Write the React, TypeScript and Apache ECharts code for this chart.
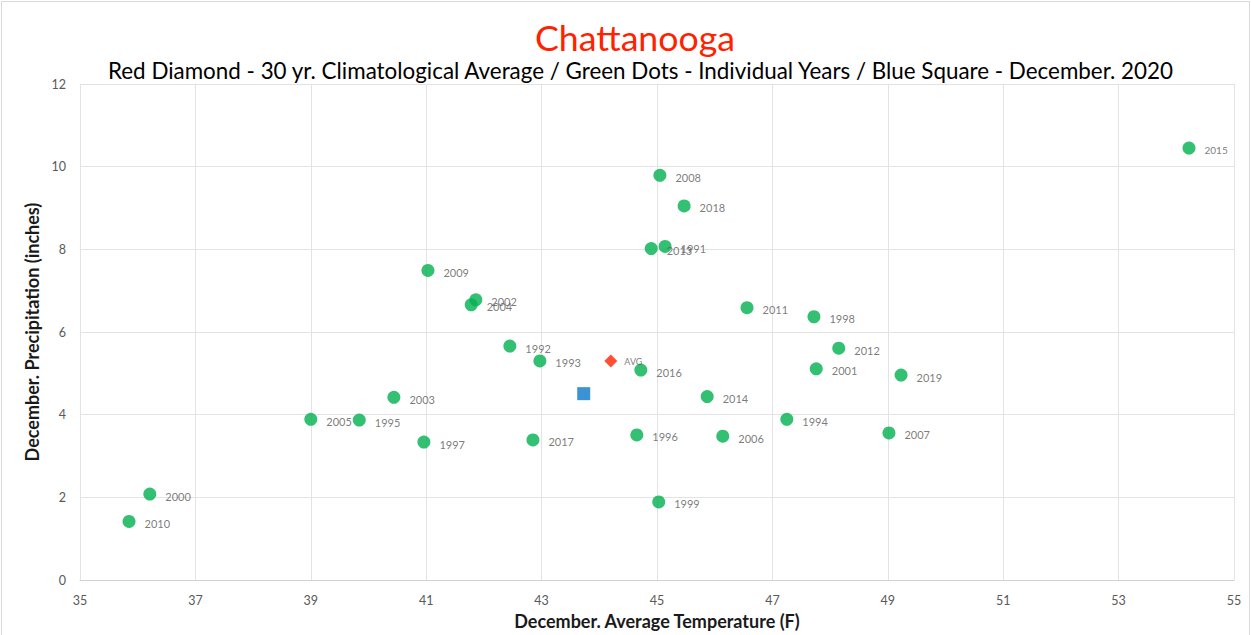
import React, { useEffect, useRef } from "react";
import * as echarts from "echarts";

const years = ["1991","1992","1993","1994","1995","1996","1997","1998","1999","2000","2001","2002","2003","2004","2005","2006","2007","2008","2009","2010","2011","2012","2013","2014","2015","2016","2017","2018","2019"];
const temps = [45.14,42.45,42.97,47.25,39.84,44.65,40.96,47.72,45.03,36.21,47.76,41.86,40.44,41.78,39.0,46.14,49.02,45.05,41.03,35.85,46.56,48.15,44.9,45.87,54.22,44.72,42.85,45.47,49.23];
const precips = [8.07,5.66,5.3,3.89,3.87,3.51,3.34,6.37,1.89,2.08,5.11,6.78,4.42,6.66,3.89,3.48,3.56,9.79,7.49,1.42,6.59,5.61,8.02,4.44,10.45,5.08,3.39,9.05,4.96];
const avgPoint = [44.2, 5.3];
const currentPoint = [43.73, 4.51];

const FONT = "Lato, 'Open Sans', sans-serif";

export default function App() {
  const ref = useRef<HTMLDivElement>(null);
  useEffect(() => {
    if (!ref.current) return;
    const chart = echarts.init(ref.current, undefined, { renderer: "svg" });
    const yearData = years.map((y, i) => ({
      name: y,
      value: [temps[i], precips[i]],
      label: y === "2015" ? { fontSize: 10 } : undefined,
    }));
    chart.setOption({
      animation: false,
      backgroundColor: "#ffffff",
      textStyle: { fontFamily: FONT },
      title: [
        {
          text: "Chattanooga",
          left: 530,
          top: 14,
          textStyle: { fontSize: 35.7, fontWeight: "normal", color: "#FF2200", fontFamily: FONT },
        },
        {
          text: "Red Diamond - 30 yr. Climatological Average / Green Dots - Individual Years / Blue Square - December. 2020",
          left: 103,
          top: 54,
          textStyle: { fontSize: 22.4, fontWeight: "normal", color: "#000000", fontFamily: FONT },
        },
      ],
      grid: { left: 80, right: 17, top: 84, bottom: 47 },
      xAxis: {
        type: "value",
        min: 35,
        max: 55,
        interval: 2,
        name: "December. Average Temperature (F)",
        nameLocation: "middle",
        nameGap: 30,
        nameTextStyle: { fontSize: 18, fontWeight: "bold", color: "#1a1a1a", fontFamily: FONT },
        axisLine: { show: true, lineStyle: { color: "#d0d0d0" } },
        axisTick: { show: false },
        axisLabel: { color: "#595959", fontSize: 12.5, margin: 14 },
        splitLine: { show: true, lineStyle: { color: "#e3e3e3" } },
      },
      yAxis: {
        type: "value",
        min: 0,
        max: 12,
        interval: 2,
        name: "December. Precipitation (inches)",
        nameLocation: "middle",
        nameGap: 33,
        nameTextStyle: { fontSize: 18, fontWeight: "bold", color: "#1a1a1a", fontFamily: FONT },
        axisLine: { show: false },
        axisTick: { show: false },
        axisLabel: { color: "#595959", fontSize: 12.5, margin: 14 },
        splitLine: { show: true, lineStyle: { color: "#e3e3e3" } },
      },
      series: [
        {
          type: "scatter",
          symbol: "circle",
          symbolSize: 13,
          itemStyle: { color: "#00B050" },
          label: {
            show: true,
            position: "right",
            distance: 9,
            offset: [0, 2],
            formatter: "{b}",
            fontSize: 11,
            color: "#595959",
          },
          data: yearData,
        },
        {
          type: "scatter",
          symbol: "diamond",
          symbolSize: 13,
          itemStyle: { color: "#FF2200" },
          label: {
            show: true,
            position: "right",
            distance: 7,
            offset: [0, 1],
            formatter: "AVG",
            fontSize: 9,
            color: "#595959",
          },
          data: [avgPoint],
        },
        {
          type: "scatter",
          symbol: "rect",
          symbolSize: 13,
          itemStyle: { color: "#0A78C8" },
          data: [currentPoint],
        },
      ],
      graphic: [
        {
          type: "rect",
          shape: { x: 1.5, y: 1.5, width: 1248, height: 640 },
          style: { fill: "none", stroke: "#d9d9d9", lineWidth: 1 },
          silent: true,
        },
      ],
    });
    return () => chart.dispose();
  }, []);
  return (
    <div
      ref={ref}
      style={{ position: "fixed", left: 0, top: 0, width: 1251, height: 635 }}
    />
  );
}
